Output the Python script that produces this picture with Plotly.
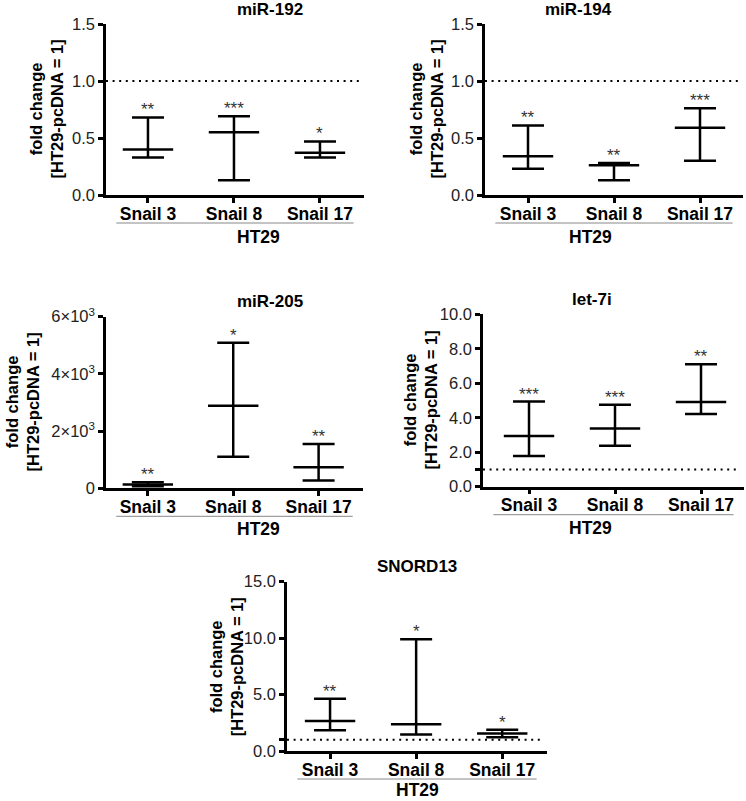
import plotly.graph_objects as go

W_PX, H_PX = 746, 801

categories = ["Snail 3", "Snail 8", "Snail 17"]
group_label = "HT29"
ref_level = 1.0

titles = ["miR-192", "miR-194", "miR-205", "let-7i", "SNORD13"]

median_192 = [0.40, 0.55, 0.37]
upper_192 = [0.68, 0.69, 0.47]
lower_192 = [0.33, 0.13, 0.33]
stars_192 = ["**", "***", "*"]

median_194 = [0.34, 0.26, 0.59]
upper_194 = [0.61, 0.28, 0.76]
lower_194 = [0.23, 0.13, 0.30]
stars_194 = ["**", "**", "***"]

median_205 = [130, 2890, 735]
upper_205 = [210, 5090, 1550]
lower_205 = [70, 1105, 270]
stars_205 = ["**", "*", "**"]

median_let7i = [2.94, 3.37, 4.91]
upper_let7i = [4.94, 4.76, 7.10]
lower_let7i = [1.78, 2.38, 4.22]
stars_let7i = ["***", "***", "**"]

median_snord = [2.65, 2.36, 1.54]
upper_snord = [4.63, 9.90, 1.89]
lower_snord = [1.83, 1.46, 1.22]
stars_snord = ["**", "*", "*"]

ticks_192 = [0, 0.5, 1.0, 1.5]
ticklabels_192 = ["0.0", "0.5", "1.0", "1.5"]
ticks_205 = [0, 2000, 4000, 6000]
ticklabels_205 = ["0", "2×10<sup>3</sup>", "4×10<sup>3</sup>", "6×10<sup>3</sup>"]
ticks_let7i = [0, 2, 4, 6, 8, 10]
ticklabels_let7i = ["0.0", "2.0", "4.0", "6.0", "8.0", "10.0"]
ticks_snord = [0, 5, 10, 15]
ticklabels_snord = ["0.0", "5.0", "10.0", "15.0"]

datasets = [
    (median_192, upper_192, lower_192, stars_192, ticks_192, ticklabels_192, [0, 1.5], True, False),
    (median_194, upper_194, lower_194, stars_194, ticks_192, ticklabels_192, [0, 1.5], True, False),
    (median_205, upper_205, lower_205, stars_205, ticks_205, ticklabels_205, [0, 6000], False, False),
    (median_let7i, upper_let7i, lower_let7i, stars_let7i, ticks_let7i, ticklabels_let7i, [0, 10], True, True),
    (median_snord, upper_snord, lower_snord, stars_snord, ticks_snord, ticklabels_snord, [0, 15], True, True),
]

# panel geometry in pixels (left, right, top, bottom), x-range, y-title offset, group-label offset
panels = [
    dict(l=106, r=364, t=24, b=195, xr=[-0.488, 2.512], yt=60, gl=42),
    dict(l=485, r=743, t=24, b=195, xr=[-0.5, 2.5], yt=59, gl=42),
    dict(l=106, r=363, t=316.7, b=488.3, xr=[-0.49, 2.52], yt=84, gl=41),
    dict(l=483, r=744, t=314.3, b=486.7, xr=[-0.535, 2.5], yt=63, gl=41),
    dict(l=287, r=547, t=581.7, b=751, xr=[-0.5, 2.52], yt=61, gl=39),
]

FONT = "Liberation Sans, Arial, sans-serif"
LW = 2.5

fig = go.Figure()
annotations = []
shapes = []
layout = {}

for i, ((med, up, lo, st, tv, tt, yr, show_ref, ref_tick), p) in enumerate(zip(datasets, panels)):
    n = i + 1
    xa = "x" if n == 1 else f"x{n}"
    ya = "y" if n == 1 else f"y{n}"
    xd = [p["l"] / W_PX, p["r"] / W_PX]
    yd = [1 - p["b"] / H_PX, 1 - p["t"] / H_PX]

    layout["xaxis" if n == 1 else f"xaxis{n}"] = dict(
        domain=xd, anchor=ya, range=p["xr"], tickvals=[0, 1, 2], ticktext=categories,
        showline=True, linecolor="black", linewidth=LW, ticks="outside", ticklen=5,
        tickwidth=LW, tickcolor="black", showgrid=False, zeroline=False, automargin=False,
        ticklabelstandoff=-4,
        tickfont=dict(family=FONT, size=17.5, color="black", weight="bold"), fixedrange=True,
    )
    yax = dict(
        domain=yd, anchor=xa, range=yr, tickvals=tv, ticktext=tt,
        showline=True, linecolor="black", linewidth=LW, ticks="outside", ticklen=5,
        tickwidth=LW, tickcolor="black", showgrid=False, zeroline=False, automargin=False,
        tickfont=dict(family=FONT, size=16.5, color="#222"), fixedrange=True,
    )
    if ref_tick:
        yax["minor"] = dict(tickvals=[ref_level], ticks="outside", ticklen=5,
                            tickwidth=LW, tickcolor="black", showgrid=False)
    layout["yaxis" if n == 1 else f"yaxis{n}"] = yax

    if show_ref:
        shapes.append(dict(type="line", xref=f"{xa} domain", yref=ya, x0=0, x1=0.985,
                           y0=ref_level, y1=ref_level,
                           line=dict(color="black", width=2, dash="2px,4.6px")))

    plus = [u - m for u, m in zip(up, med)]
    minus = [m - l for m, l in zip(med, lo)]
    fig.add_trace(go.Scatter(
        x=[0, 1, 2], y=med, xaxis=xa, yaxis=ya, mode="markers", showlegend=False,
        marker=dict(symbol="line-ew-open", size=36, color="black",
                    line=dict(color="black", width=LW)),
        error_y=dict(type="data", symmetric=False, array=plus, arrayminus=minus,
                     width=16, thickness=LW, color="black"),
        hoverinfo="skip",
    ))
    for j, s in enumerate(st):
        annotations.append(dict(x=j, y=up[j], xref=xa, yref=ya, text=s, showarrow=False,
                                yanchor="bottom", yshift=-4,
                                font=dict(family=FONT, size=17, color="#333")))

    xc = (p["l"] + p["r"]) / 2 / W_PX
    annotations.append(dict(x=xc, y=1 - (p["t"] - 15) / H_PX, xref="paper", yref="paper",
                            text=titles[i], showarrow=False, yanchor="middle",
                            font=dict(family=FONT, size=17, color="black", weight="bold")))
    annotations.append(dict(x=(p["l"] - p["yt"]) / W_PX, y=1 - (p["t"] + p["b"]) / 2 / H_PX,
                            xref="paper", yref="paper", textangle=-90,
                            text="fold change<br>[HT29-pcDNA = 1]", showarrow=False,
                            xanchor="center", yanchor="middle",
                            font=dict(family=FONT, size=16.5, color="black", weight="bold")))
    shapes.append(dict(type="line", xref=f"{xa} domain", yref="paper", x0=0.04, x1=0.96,
                       y0=1 - (p["b"] + 28) / H_PX, y1=1 - (p["b"] + 28) / H_PX,
                       line=dict(color="#888", width=1)))
    annotations.append(dict(x=xc, y=1 - (p["b"] + p["gl"]) / H_PX, xref="paper", yref="paper",
                            text=group_label, showarrow=False, yanchor="middle",
                            font=dict(family=FONT, size=17.5, color="black", weight="bold")))

fig.update_layout(
    width=W_PX, height=H_PX, margin=dict(l=0, r=0, t=0, b=0, autoexpand=False),
    paper_bgcolor="white", plot_bgcolor="white",
    annotations=annotations, shapes=shapes, showlegend=False, **layout,
)

fig.write_html("out.html", config={"displayModeBar": False},
               post_script="document.body.style.margin='0';document.body.style.overflow='hidden';")
